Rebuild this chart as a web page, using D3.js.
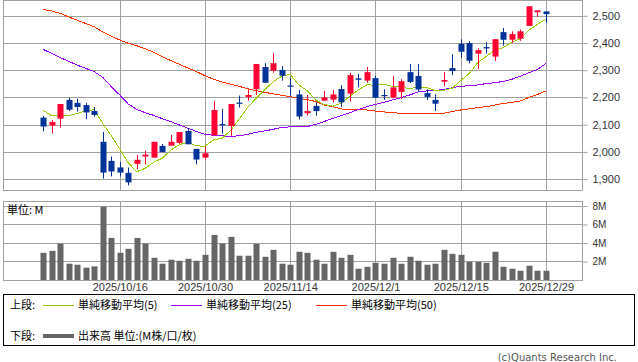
<!DOCTYPE html>
<html>
<head>
<meta charset="utf-8">
<script src="https://cdn.jsdelivr.net/npm/d3@7"></script>
<style>
  body { margin: 0; background: #fff; }
  svg { display: block; font-family: "DejaVu Sans", sans-serif; }
</style>
</head>
<body>
<script>
// trading days, 2025/10/2 .. 2025/12/29
var dates = [
  "2025/10/2", "2025/10/3", "2025/10/6", "2025/10/7", "2025/10/8", "2025/10/9", "2025/10/10", "2025/10/14", "2025/10/15", "2025/10/16",
  "2025/10/17", "2025/10/20", "2025/10/21", "2025/10/22", "2025/10/23", "2025/10/24", "2025/10/27", "2025/10/28", "2025/10/29", "2025/10/30",
  "2025/10/31", "2025/11/4", "2025/11/5", "2025/11/6", "2025/11/7", "2025/11/10", "2025/11/11", "2025/11/12", "2025/11/13", "2025/11/14",
  "2025/11/17", "2025/11/18", "2025/11/19", "2025/11/20", "2025/11/21", "2025/11/25", "2025/11/26", "2025/11/27", "2025/11/28", "2025/12/1",
  "2025/12/2", "2025/12/3", "2025/12/4", "2025/12/5", "2025/12/8", "2025/12/9", "2025/12/10", "2025/12/11", "2025/12/12", "2025/12/15",
  "2025/12/16", "2025/12/17", "2025/12/18", "2025/12/19", "2025/12/22", "2025/12/23", "2025/12/24", "2025/12/25", "2025/12/26", "2025/12/29"
];

var opens = [2126, 2097, 2122, 2191, 2180, 2172, 2150, 2037, 1967, 1943,
  1923, 1956, 1983, 1979, 2022, 2023, 2033, 2077, 2011, 1979,
  2061, 2102, 2095, 2181, 2202, 2230, 2312, 2298, 2301, 2244,
  2211, 2142, 2169, 2188, 2192, 2231, 2214, 2270, 2262, 2271,
  2209, 2200, 2220, 2293, 2279, 2216, 2191, 2258, 2308, 2397,
  2400, 2361, 2385, 2350, 2440, 2412, 2416, 2463, 2513, 2516];
var highs = [2132, 2117, 2176, 2199, 2196, 2180, 2165, 2073, 1983, 1963,
  1943, 1989, 2004, 2037, 2029, 2062, 2073, 2088, 2011, 2020,
  2187, 2158, 2176, 2207, 2230, 2323, 2326, 2363, 2315, 2273,
  2227, 2209, 2182, 2224, 2227, 2245, 2291, 2286, 2312, 2279,
  2230, 2279, 2267, 2323, 2323, 2230, 2211, 2293, 2359, 2414,
  2407, 2380, 2403, 2414, 2455, 2443, 2450, 2535, 2520, 2516];
var lows = [2075, 2067, 2089, 2150, 2148, 2120, 2130, 1902, 1910, 1910,
  1877, 1936, 1954, 1979, 1999, 2023, 2029, 2028, 1954, 1973,
  2061, 2067, 2059, 2163, 2188, 2209, 2254, 2291, 2262, 2207,
  2119, 2133, 2133, 2188, 2181, 2165, 2185, 2237, 2254, 2199,
  2191, 2197, 2194, 2253, 2220, 2191, 2150, 2240, 2282, 2346,
  2325, 2304, 2361, 2334, 2390, 2401, 2408, 2463, 2496, 2474];
var closes = [2093, 2110, 2176, 2155, 2165, 2145, 2136, 1924, 1928, 1924,
  1888, 1971, 1990, 2037, 1999, 2037, 2073, 2028, 1972, 1995,
  2154, 2100, 2176, 2177, 2209, 2323, 2254, 2326, 2280, 2241,
  2130, 2150, 2150, 2200, 2211, 2182, 2282, 2265, 2293, 2199,
  2205, 2237, 2260, 2257, 2229, 2202, 2177, 2264, 2297, 2368,
  2335, 2374, 2380, 2414, 2412, 2433, 2443, 2535, 2520, 2506];

// moving averages as plotted
var ma5 = [2153, 2133, 2132, 2133, 2141, 2150, 2155, 2105, 2060, 2011,
  1960, 1927, 1940, 1962, 1977, 2007, 2027, 2035, 2022, 2021,
  2044, 2050, 2079, 2120, 2163, 2197, 2228, 2258, 2278, 2285,
  2246, 2225, 2190, 2174, 2168, 2179, 2205, 2228, 2247, 2244,
  2249, 2240, 2239, 2232, 2238, 2237, 2225, 2226, 2234, 2262,
  2288, 2328, 2351, 2374, 2383, 2403, 2416, 2447, 2469, 2487];
var ma25 = [2377, 2362, 2347, 2333, 2319, 2307, 2295, 2274, 2240, 2209,
  2176, 2156, 2144, 2134, 2122, 2111, 2099, 2087, 2075, 2065,
  2061, 2059, 2057, 2059, 2064, 2072, 2077, 2083, 2090, 2092,
  2092, 2093, 2101, 2112, 2123, 2133, 2144, 2156, 2166, 2175,
  2182, 2191, 2199, 2209, 2220, 2224, 2226, 2229, 2236, 2241,
  2243, 2246, 2251, 2254, 2259, 2267, 2278, 2291, 2303, 2325];
var ma50 = [2523, 2518, 2509, 2496, 2484, 2472, 2460, 2441, 2425, 2411,
  2399, 2390, 2379, 2366, 2350, 2335, 2322, 2308, 2295, 2280,
  2267, 2257, 2249, 2241, 2232, 2225, 2219, 2213, 2208, 2203,
  2197, 2192, 2185, 2172, 2166, 2158, 2154, 2154, 2154, 2150,
  2147, 2144, 2142, 2142, 2142, 2142, 2142, 2142, 2148, 2154,
  2158, 2163, 2166, 2172, 2178, 2182, 2187, 2200, 2211, 2224];

// volume, millions
var volumes = [2.94, 3.15, 3.94, 1.76, 1.65, 1.33, 1.47, 7.92, 4.55, 2.94,
  3.37, 4.55, 3.94, 2.40, 1.76, 2.19, 2.08, 2.29, 2.08, 2.72,
  4.87, 3.94, 4.66, 2.62, 2.62, 3.91, 2.51, 3.26, 1.76, 1.65,
  3.05, 2.94, 2.19, 1.76, 3.05, 2.40, 2.72, 1.22, 1.43, 1.86,
  1.76, 2.40, 1.76, 2.51, 2.08, 1.65, 1.76, 3.26, 2.83, 2.72,
  1.97, 1.97, 1.86, 3.05, 1.43, 1.22, 1.00, 1.54, 1.00, 1.00];

var priceTicks = [1900, 2000, 2100, 2200, 2300, 2400, 2500];
var volTicks = [2, 4, 6, 8];
var dateTicks = ["2025/10/16", "2025/10/30", "2025/11/14", "2025/12/1", "2025/12/15", "2025/12/29"];

var w = 638;
var h = 362;
var left = 3, right = 582;
var top1 = 0, bot1 = 190;   // price panel
var top2 = 201, bot2 = 280; // volume panel
var gridColor = "#a0a0a0";
var upColor = "#ff0033";
var downColor = "#003399";

var svg = d3.select("body")
  .append("svg")
  .attr("width", w)
  .attr("height", h);

var x = d3.scalePoint()
  .domain(dates)
  .range([43, 546]);

var y = d3.scaleLinear()
  .domain([1860, 2558])
  .range([bot1, top1]);

var yv = d3.scaleLinear()
  .domain([0, 8.54])
  .range([bot2, top2]);

// gridlines, both panels
svg.append("g").selectAll("line")
  .data(priceTicks)
  .enter().append("line")
  .attr("x1", left).attr("x2", right)
  .attr("y1", function(d) { return Math.round(y(d)) + 0.5; })
  .attr("y2", function(d) { return Math.round(y(d)) + 0.5; })
  .attr("stroke", gridColor);

svg.append("g").selectAll("line")
  .data(volTicks)
  .enter().append("line")
  .attr("x1", left).attr("x2", right)
  .attr("y1", function(d) { return Math.round(yv(d)) + 0.5; })
  .attr("y2", function(d) { return Math.round(yv(d)) + 0.5; })
  .attr("stroke", gridColor);

[[top1, bot1], [top2, bot2]].forEach(function(p) {
  svg.append("g").selectAll("line")
    .data(dateTicks)
    .enter().append("line")
    .attr("x1", function(d) { return Math.round(x(d)) + 0.5; })
    .attr("x2", function(d) { return Math.round(x(d)) + 0.5; })
    .attr("y1", p[0]).attr("y2", p[1])
    .attr("stroke", gridColor);
});

// moving averages (aliased, like the original)
var lines = [[ma50, "#ff3300"], [ma25, "#9900ff"], [ma5, "#99cc00"]];
lines.forEach(function(l) {
  var line = d3.line()
    .x(function(d, i) { return x(dates[i]); })
    .y(function(d) { return y(d); });
  svg.append("path")
    .datum(l[0])
    .attr("d", line)
    .attr("fill", "none")
    .attr("stroke", l[1])
    .attr("stroke-width", 1)
    .attr("shape-rendering", "crispEdges");
});

// candles
var candles = svg.append("g").selectAll("g")
  .data(dates)
  .enter().append("g");

function col(d, i) {
  return closes[i] >= opens[i] ? upColor : downColor;
}

candles.append("line")
  .attr("x1", function(d) { return Math.round(x(d)) + 0.5; })
  .attr("x2", function(d) { return Math.round(x(d)) + 0.5; })
  .attr("y1", function(d, i) { return y(highs[i]); })
  .attr("y2", function(d, i) { return y(lows[i]); })
  .attr("stroke", col);

candles.append("rect")
  .attr("x", function(d) { return Math.round(x(d)) - 2.5; })
  .attr("width", 6)
  .attr("y", function(d, i) { return y(Math.max(opens[i], closes[i])); })
  .attr("height", function(d, i) { return Math.max(1.2, Math.abs(y(opens[i]) - y(closes[i]))); })
  .attr("fill", col);

// volume bars
svg.append("g").selectAll("rect")
  .data(volumes)
  .enter().append("rect")
  .attr("x", function(d, i) { return Math.round(x(dates[i])) - 2.5; })
  .attr("width", 6)
  .attr("y", function(d) { return yv(d); })
  .attr("height", function(d) { return bot2 - yv(d); })
  .attr("fill", "#666666");

// panel frames
[[top1, bot1], [top2, bot2]].forEach(function(p) {
  svg.append("rect")
    .attr("x", left + 0.5).attr("y", p[0] + 0.5)
    .attr("width", right - left).attr("height", p[1] - p[0])
    .attr("fill", "none")
    .attr("stroke", gridColor);
});

// right axes
function styleAxis(g) {
  g.select(".domain").remove();
  g.selectAll(".tick line").attr("stroke", gridColor);
  g.selectAll(".tick text").attr("fill", "#333").style("font-size", "11px");
}

svg.append("g")
  .attr("transform", "translate(" + (right + 0.5) + ",0)")
  .call(d3.axisRight(y).tickValues(priceTicks).tickSize(5).tickPadding(5).tickFormat(d3.format(",")))
  .call(styleAxis);

svg.append("g")
  .attr("transform", "translate(" + (right + 0.5) + ",0)")
  .call(d3.axisRight(yv).tickValues(volTicks).tickSize(5).tickPadding(5).tickFormat(function(d) { return d + "M"; }))
  .call(styleAxis)
  .selectAll(".tick text").style("font-size", "10px");

// date axis
svg.append("g")
  .attr("transform", "translate(0," + bot2 + ")")
  .call(d3.axisBottom(x).tickValues(dateTicks).tickSize(0).tickPadding(3))
  .call(styleAxis);

svg.append("text")
  .attr("x", 7).attr("y", 214)
  .style("font-family", "'Noto Sans CJK JP', sans-serif")
  .style("font-size", "11px")
  .attr("fill", "#000")
  .text("単位: M");

// legend box
var jp = "'Noto Sans CJK JP', sans-serif";
svg.append("rect")
  .attr("x", 3.5).attr("y", 294.5)
  .attr("width", 631).attr("height", 51)
  .attr("fill", "none")
  .attr("stroke", "#000");

var legend = [
  { x: 43, y: 305, color: "#99cc00", label: "単純移動平均(5)" },
  { x: 171, y: 305, color: "#9900ff", label: "単純移動平均(25)" },
  { x: 316, y: 305, color: "#ff3300", label: "単純移動平均(50)" }
];

svg.append("text").attr("x", 10).attr("y", 309)
  .style("font-family", jp).style("font-size", "11px").text("上段:");
svg.append("text").attr("x", 10).attr("y", 340)
  .style("font-family", jp).style("font-size", "11px").text("下段:");

legend.forEach(function(d) {
  svg.append("line")
    .attr("x1", d.x).attr("x2", d.x + 31)
    .attr("y1", d.y + 0.5).attr("y2", d.y + 0.5)
    .attr("stroke", d.color);
  svg.append("text")
    .attr("x", d.x + 35).attr("y", d.y + 4)
    .style("font-family", jp).style("font-size", "11px")
    .text(d.label);
});

svg.append("line")
  .attr("x1", 43).attr("x2", 74)
  .attr("y1", 336).attr("y2", 336)
  .attr("stroke", "#666")
  .attr("stroke-width", 4);
svg.append("text")
  .attr("x", 78).attr("y", 340)
  .style("font-family", jp).style("font-size", "11px")
  .text("出来高 単位:(M株/口/枚)");

svg.append("text")
  .attr("x", 617).attr("y", 361)
  .attr("text-anchor", "end")
  .attr("fill", "#555")
  .style("font-size", "10px")
  .text("(c)Quants Research Inc.");
</script>
</body>
</html>
